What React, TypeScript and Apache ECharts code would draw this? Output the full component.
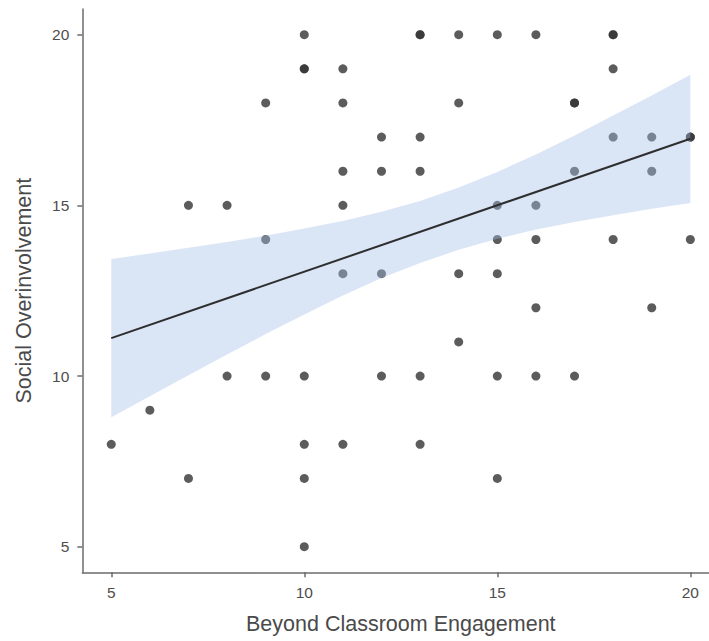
import React, { useEffect, useRef } from "react";
import * as echarts from "echarts";

// Scatter points (Beyond Classroom Engagement, Social Overinvolvement)
const pointX = [
  5, 6, 7, 7, 8, 8, 9, 9, 9,
  10, 10, 10, 10, 10, 10, 10,
  11, 11, 11, 11, 11, 11,
  12, 12, 12, 12,
  13, 13, 13, 13, 13, 13,
  14, 14, 14, 14,
  15, 15, 15, 15, 15, 15,
  16, 16, 16, 16, 16,
  17, 17, 17, 17,
  18, 18, 18, 18, 18,
  19, 19, 19,
  20, 20, 20,
];
const pointY = [
  8, 9, 15, 7, 15, 10, 18, 14, 10,
  20, 19, 19, 10, 8, 7, 5,
  19, 18, 16, 15, 13, 8,
  17, 16, 13, 10,
  20, 20, 17, 16, 10, 8,
  20, 18, 13, 11,
  20, 15, 14, 13, 10, 7,
  20, 15, 14, 12, 10,
  18, 18, 16, 10,
  20, 20, 19, 17, 14,
  17, 16, 12,
  17, 17, 14,
];

// Fitted regression line
const fitX = [5, 20];
const fitY = [11.11, 16.95];

// Confidence band
const bandX = [5, 6, 7, 8, 9, 10, 11, 12, 13, 14, 15, 16, 17, 18, 19, 20];
const bandLower = [8.79, 9.41, 10.02, 10.63, 11.23, 11.8, 12.36, 12.87, 13.31, 13.7, 14.02, 14.29, 14.51, 14.71, 14.9, 15.07];
const bandUpper = [13.43, 13.59, 13.76, 13.93, 14.11, 14.32, 14.54, 14.81, 15.13, 15.52, 15.98, 16.49, 17.05, 17.63, 18.22, 18.83];

const xTicks = [5, 10, 15, 20];
const yTicks = [5, 10, 15, 20];

const xTitle = "Beyond Classroom Engagement";
const yTitle = "Social Overinvolvement";

const FONT = "'Liberation Sans', Arial, sans-serif";
const AXIS_COLOR = "#6b6b6b";
const LABEL_COLOR = "#4d4d4d";
const TITLE_COLOR = "#4a4a4a";

export default function App() {
  const ref = useRef<HTMLDivElement>(null);

  useEffect(() => {
    if (!ref.current) return;
    const chart = echarts.init(ref.current, null, { renderer: "svg" });

    const axisCommon = (ticks: number[]) => ({
      type: "value" as const,
      min: 4.25,
      max: 20.75,
      splitLine: { show: false },
      axisLine: { show: true, onZero: false, lineStyle: { color: AXIS_COLOR, width: 1.5 } },
      axisTick: { show: true, length: 5, customValues: ticks, lineStyle: { color: AXIS_COLOR, width: 1.5 } },
      nameLocation: "middle" as const,
      nameTextStyle: { color: TITLE_COLOR, fontSize: 21.5, fontFamily: FONT },
    });

    chart.setOption({
      animation: false,
      backgroundColor: "#ffffff",
      grid: { left: 82.3, top: 9.1, width: 637, height: 563.2, containLabel: false },
      xAxis: {
        ...axisCommon(xTicks),
        name: xTitle,
        nameGap: 41,
        axisLabel: { customValues: xTicks, color: LABEL_COLOR, fontSize: 15.5, fontFamily: FONT, margin: 12 },
      },
      yAxis: {
        ...axisCommon(yTicks),
        name: yTitle,
        nameGap: 47,
        axisLabel: { customValues: yTicks, color: LABEL_COLOR, fontSize: 15.5, fontFamily: FONT, margin: 13 },
      },
      series: [
        {
          type: "scatter",
          z: 2,
          symbolSize: 9,
          itemStyle: { color: "#333333", opacity: 0.8 },
          data: pointX.map((x, i) => [x, pointY[i]]),
          silent: true,
        },
        {
          type: "custom",
          z: 3,
          silent: true,
          data: bandX.map((x, i) => [x, bandLower[i], bandUpper[i]]),
          encode: { x: 0, y: [1, 2] },
          renderItem: (params: any, api: any) => {
            if (params.dataIndex !== 0) return null;
            const top = bandX.map((x, i) => api.coord([x, bandUpper[i]]));
            const bottom = bandX
              .map((x, i) => api.coord([x, bandLower[i]]))
              .reverse();
            return {
              type: "polygon",
              shape: { points: [...top, ...bottom] },
              style: { fill: "rgba(163,190,233,0.4)", stroke: "none" },
            };
          },
        },
        {
          type: "line",
          z: 4,
          silent: true,
          showSymbol: false,
          data: fitX.map((x, i) => [x, fitY[i]]),
          lineStyle: { color: "#2e2e2e", width: 2 },
        },
      ],
    });

    return () => chart.dispose();
  }, []);

  return (
    <div
      style={{ position: "fixed", left: 0, top: 0, width: 709, height: 641, overflow: "hidden", background: "#fff" }}
    >
      <div ref={ref} style={{ width: 722, height: 641 }} />
    </div>
  );
}
